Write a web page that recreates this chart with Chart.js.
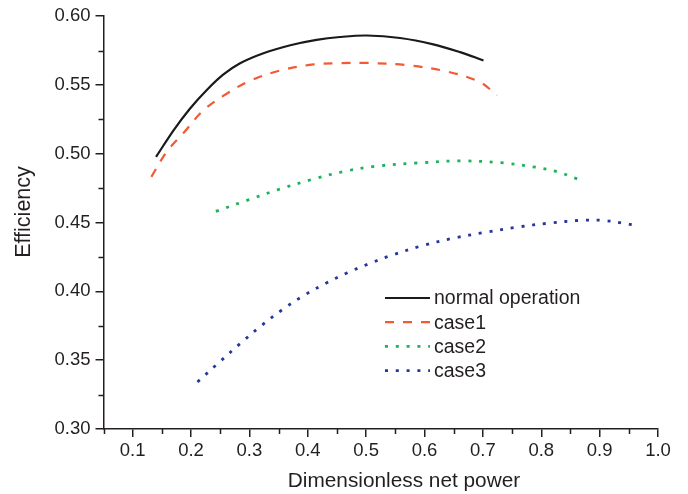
<!DOCTYPE html>
<html>
<head>
<meta charset="utf-8">
<script src="https://cdn.jsdelivr.net/npm/chart.js@4.4.1/dist/chart.umd.min.js"></script>
<style>
  html, body { margin: 0; padding: 0; background: #fff; }
  canvas { display: block; }
</style>
</head>
<body>
<canvas id="effChart" width="688" height="494"></canvas>
<script>
// efficiency vs dimensionless net power, four operating cases
var seriesNames = ["normal operation", "case1", "case2", "case3"];

var normalX = [0.140, 0.170, 0.198, 0.227, 0.255, 0.284, 0.324, 0.370, 0.415, 0.455, 0.501, 0.558, 0.615, 0.661, 0.701];
var normalY = [0.4977, 0.5170, 0.5327, 0.5463, 0.5574, 0.5657, 0.5730, 0.5788, 0.5827, 0.5848, 0.5859, 0.5841, 0.5795, 0.5738, 0.5678];

var case1X = [0.132, 0.158, 0.187, 0.221, 0.261, 0.301, 0.353, 0.410, 0.455, 0.500, 0.570, 0.638, 0.695, 0.724];
var case1Y = [0.4832, 0.5013, 0.5150, 0.5315, 0.5436, 0.5530, 0.5605, 0.5649, 0.5658, 0.5660, 0.5643, 0.5598, 0.5520, 0.5424];

var case2X = [0.2425, 0.297, 0.352, 0.407, 0.462, 0.516, 0.589, 0.662, 0.735, 0.790, 0.826, 0.863];
var case2Y = [0.4581, 0.4663, 0.4743, 0.4813, 0.4871, 0.4909, 0.4933, 0.4948, 0.4933, 0.4902, 0.4871, 0.4815];

var case3X = [0.211, 0.248, 0.2846, 0.3206, 0.3577, 0.394, 0.431, 0.467, 0.504, 0.540, 0.5945, 0.649, 0.704, 0.759, 0.814, 0.868, 0.905, 0.942, 0.960];
var case3Y = [0.3342, 0.3484, 0.3622, 0.3752, 0.3871, 0.3972, 0.4059, 0.4134, 0.4199, 0.4257, 0.4330, 0.4386, 0.4429, 0.4467, 0.4496, 0.4516, 0.4516, 0.4494, 0.4480];

var xTicks = [0.1, 0.2, 0.3, 0.4, 0.5, 0.6, 0.7, 0.8, 0.9, 1.0];
var xMinorTicks = [0.05, 0.15, 0.25, 0.35, 0.45, 0.55, 0.65, 0.75, 0.85, 0.95];
var yTicks = [0.30, 0.35, 0.40, 0.45, 0.50, 0.55, 0.60];
var yMinorTicks = [0.325, 0.375, 0.425, 0.475, 0.525, 0.575];

var FONT = "'Liberation Sans', Arial, Helvetica, sans-serif";
var AXIS_COLOR = "#231f20";

function toPoints(xs, ys) {
    var pts = [];
    for (var i = 0; i < xs.length; i++) {
        pts.push({ x: xs[i], y: ys[i] });
    }
    return pts;
}

function lineSet(label, xs, ys, color, dash, width) {
    return {
        label: label,
        data: toPoints(xs, ys),
        showLine: true,
        borderColor: color,
        backgroundColor: color,
        borderWidth: width,
        borderDash: dash,
        borderCapStyle: "butt",
        pointRadius: 0,
        tension: 0.35,
        fill: false
    };
}

// minor ticks, axis titles and the in-plot legend
var decorPlugin = {
    id: "decor",
    afterDraw: function (chart) {
        var ctx = chart.ctx;
        var xs = chart.scales.x, ys = chart.scales.y;
        var area = chart.chartArea;

        ctx.save();
        ctx.strokeStyle = AXIS_COLOR;
        ctx.lineWidth = 1.5;
        ctx.beginPath();
        xMinorTicks.forEach(function (v) {
            var px = Math.round(xs.getPixelForValue(v)) + 0.5;
            ctx.moveTo(px, area.bottom);
            ctx.lineTo(px, area.bottom + 5);
        });
        yMinorTicks.forEach(function (v) {
            var py = Math.round(ys.getPixelForValue(v)) + 0.5;
            ctx.moveTo(area.left, py);
            ctx.lineTo(area.left - 5, py);
        });
        ctx.stroke();

        // axis titles
        ctx.fillStyle = AXIS_COLOR;
        ctx.textAlign = "center";
        ctx.textBaseline = "middle";
        ctx.font = "20.8px " + FONT;
        ctx.fillText("Dimensionless net power", 404, 481);
        ctx.font = "21.5px " + FONT;
        ctx.translate(24, 212);
        ctx.rotate(-Math.PI / 2);
        ctx.fillText("Efficiency", 0, 0);
        ctx.restore();

        // legend
        ctx.save();
        ctx.font = "19.5px " + FONT;
        ctx.textAlign = "left";
        ctx.textBaseline = "middle";
        chart.data.datasets.forEach(function (ds, i) {
            var rowY = 298 + i * 24.2;
            ctx.strokeStyle = ds.borderColor;
            ctx.lineWidth = ds.borderWidth;
            ctx.setLineDash(ds.borderDash || []);
            ctx.beginPath();
            ctx.moveTo(385, rowY);
            ctx.lineTo(430, rowY);
            ctx.stroke();
            ctx.setLineDash([]);
            ctx.fillStyle = AXIS_COLOR;
            ctx.fillText(ds.label, 434, rowY + 1);
        });
        ctx.restore();
    }
};

var chart = new Chart(document.getElementById("effChart"), {
    type: "scatter",
    data: {
        datasets: [
            lineSet(seriesNames[0], normalX, normalY, "#1a1a1a", [], 2.2),
            lineSet(seriesNames[1], case1X, case1Y, "#f15a32", [9, 9], 2.2),
            lineSet(seriesNames[2], case2X, case2Y, "#1db35c", [3, 7.8], 2.8),
            lineSet(seriesNames[3], case3X, case3Y, "#25379b", [3, 7.8], 2.8)
        ]
    },
    options: {
        responsive: false,
        animation: false,
        layout: { padding: { top: 15, right: 30, left: 0, bottom: 0 } },
        plugins: {
            legend: { display: false },
            tooltip: { enabled: false }
        },
        scales: {
            x: {
                type: "linear",
                min: 0.05,
                max: 1.0,
                afterBuildTicks: function (scale) {
                    scale.ticks = xTicks.map(function (v) { return { value: v }; });
                },
                afterFit: function (scale) { scale.height = 65; },
                border: { display: true, color: AXIS_COLOR, width: 1.5 },
                grid: { drawOnChartArea: false, drawTicks: true, tickLength: 8, color: AXIS_COLOR, lineWidth: 1.5 },
                ticks: {
                    padding: 3,
                    maxRotation: 0,
                    autoSkip: false,
                    color: AXIS_COLOR,
                    font: { family: FONT, size: 18.5 },
                    callback: function (v) { return Number(v).toFixed(1); }
                }
            },
            y: {
                type: "linear",
                min: 0.30,
                max: 0.60,
                afterBuildTicks: function (scale) {
                    scale.ticks = yTicks.map(function (v) { return { value: v }; });
                },
                afterFit: function (scale) { scale.width = 103.5; },
                border: { display: true, color: AXIS_COLOR, width: 1.5 },
                grid: { drawOnChartArea: false, drawTicks: true, tickLength: 8, color: AXIS_COLOR, lineWidth: 1.5 },
                ticks: {
                    padding: 5,
                    autoSkip: false,
                    color: AXIS_COLOR,
                    font: { family: FONT, size: 18.5 },
                    callback: function (v) { return Number(v).toFixed(2); }
                }
            }
        }
    },
    plugins: [decorPlugin]
});
</script>
</body>
</html>
